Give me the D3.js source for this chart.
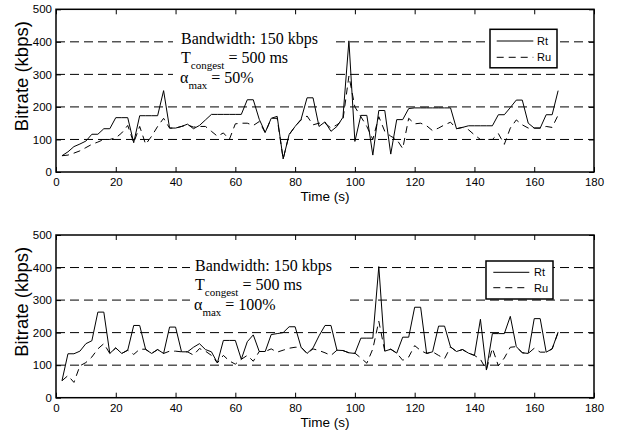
<!DOCTYPE html>
<html>
<head>
<meta charset="utf-8">
<script src="https://cdn.jsdelivr.net/npm/d3@7"></script>
<style>
  html, body { margin: 0; padding: 0; background: #fff; }
  svg { display: block; }
</style>
</head>
<body>
<script>
// ---- data ----
const timeS = [2,4,6,8,10,12,14,16,18,20,22,24,26,28,30,32,34,36,38,40,42,44,46,48,50,52,54,56,58,60,
  62,64,66,68,70,72,74,76,78,80,82,84,86,88,90,92,94,96,98,100,102,104,106,108,110,112,114,116,118,120,
  122,124,126,128,130,132,134,136,138,140,142,144,146,148,150,152,154,156,158,160,162,164,166,168];

// Top panel (alpha_max = 50%)
const rtTop = [50,62,78,86,95,116,116,133,133,167,167,167,90,173,173,173,173,250,135,135,
  140,147,133,143,160,177,177,177,177,177,177,222,222,162,122,165,171,40,115,140,
  162,228,228,140,154,125,140,168,403,94,174,174,52,189,189,55,161,161,195,197,
  197,197,197,197,197,197,133,137,142,142,142,142,142,176,176,198,221,221,150,135,
  135,176,176,250];
const ruTop = [50,52,58,65,75,85,92,100,100,105,120,143,90,140,85,110,140,165,135,135,
  140,145,138,140,140,125,110,120,100,148,150,150,143,155,120,165,165,40,115,140,
  160,172,145,150,150,135,145,160,295,200,170,140,100,170,125,110,100,72,165,148,
  150,142,127,135,145,153,133,137,130,114,100,100,100,118,85,135,160,145,135,135,
  135,140,137,175];

// Bottom panel (alpha_max = 100%)
const rtBottom = [52,135,135,143,166,175,263,263,136,153,136,146,222,222,148,136,148,136,217,217,
  141,141,155,166,148,141,107,176,176,176,118,172,193,142,142,194,197,200,218,218,
  155,136,153,190,222,222,146,145,138,136,183,183,183,403,143,149,137,186,186,278,
  278,136,141,220,220,156,142,148,137,130,241,85,197,197,197,250,157,138,136,243,
  243,140,150,202];
const ruBottom = [52,68,47,98,108,125,150,166,136,153,136,146,133,149,149,136,148,136,143,143,
  141,141,131,151,143,130,107,130,113,103,118,130,112,142,142,150,140,146,152,155,
  155,136,150,145,138,130,146,145,138,137,122,106,150,235,143,149,137,115,125,160,
  145,136,141,130,120,156,142,148,137,130,118,86,152,98,122,155,157,138,136,152,
  140,140,150,200];

const xTicks = [0,20,40,60,80,100,120,140,160,180];
const yTicks = [0,100,200,300,400,500];
const gridVals = [100,200,300,400];
const seriesNames = ["Rt","Ru"];
const annLine1 = "Bandwidth: 150 kbps";
const annTSub = "congest";
const annTVal = " = 500 ms";
const annASub = "max";
const alphaVals = [" = 50%", " = 100%"];

// ---- layout ----
const W = 631, H = 436;
const X0 = 56, X1 = 594;
const panels = [
  { top: 9.3, bottom: 172, rt: rtTop, ru: ruTop, alpha: alphaVals[0],
    ann: { x: 181, y: 43.5, box: [173, 25, 163, 68] },
    leg: { x: 490, y: 29.3, w: 67, h: 38.5, lx0: 496.7, lx1: 533.3, tx: 537, r1: 41, r2: 57.3 },
    xlabY: 200.5 },
  { top: 235, bottom: 397.7, rt: rtBottom, ru: ruBottom, alpha: alphaVals[1],
    ann: { x: 195, y: 270.7, box: [190, 250, 160, 68] },
    leg: { x: 486, y: 261, w: 67, h: 38, lx0: 493.3, lx1: 529.3, tx: 534, r1: 272.3, r2: 287.7 },
    xlabY: 426.5 }
];

const svg = d3.select("body").append("svg").attr("width", W).attr("height", H);
svg.append("rect").attr("width", W).attr("height", H).attr("fill", "#fff");

const x = d3.scaleLinear().domain([0, 180]).range([X0, X1]);
const sans = "Arial, 'Liberation Sans', sans-serif";
const serif = "'Times New Roman', 'Liberation Serif', serif";

panels.forEach(p => {
  const y = d3.scaleLinear().domain([0, 500]).range([p.bottom, p.top]);
  const g = svg.append("g");

  // grid (dashed)
  g.selectAll("line.grid").data(gridVals).enter().append("line")
    .attr("x1", X0).attr("x2", X1)
    .attr("y1", d => y(d)).attr("y2", d => y(d))
    .attr("stroke", "#000").attr("stroke-width", 1)
    .attr("stroke-dasharray", "9,5");

  // annotation background
  g.append("rect").attr("x", p.ann.box[0]).attr("y", p.ann.box[1])
    .attr("width", p.ann.box[2]).attr("height", p.ann.box[3]).attr("fill", "#fff");

  // data lines
  const lineRt = d3.line().x((d, i) => x(timeS[i])).y(d => y(d));
  g.append("path").datum(p.rt).attr("d", lineRt)
    .attr("fill", "none").attr("stroke", "#000").attr("stroke-width", 1)
    .attr("stroke-linejoin", "miter");
  g.append("path").datum(p.ru).attr("d", lineRt)
    .attr("fill", "none").attr("stroke", "#000").attr("stroke-width", 1)
    .attr("stroke-dasharray", "7,5");

  // axes with inward ticks
  const fmt = d3.format("d");
  const ax = g.append("g").attr("transform", `translate(0,${p.bottom})`)
    .call(d3.axisBottom(x).tickValues(xTicks).tickSize(-5).tickPadding(6).tickFormat(fmt));
  const axT = g.append("g").attr("transform", `translate(0,${p.top})`)
    .call(d3.axisTop(x).tickValues(xTicks).tickSize(-5).tickFormat(""));
  const ay = g.append("g").attr("transform", `translate(${X0},0)`)
    .call(d3.axisLeft(y).tickValues(yTicks).tickSize(-5).tickPadding(4).tickFormat(fmt));
  const ayR = g.append("g").attr("transform", `translate(${X1},0)`)
    .call(d3.axisRight(y).tickValues(yTicks).tickSize(-5).tickFormat(""));
  [ax, axT, ay, ayR].forEach(a => {
    a.select(".domain").remove();
    a.selectAll("line").attr("stroke", "#000");
    a.selectAll("text").attr("fill", "#000").style("font-family", sans).style("font-size", "11.5px");
  });

  // frame
  g.append("rect").attr("x", X0).attr("y", p.top)
    .attr("width", X1 - X0).attr("height", p.bottom - p.top)
    .attr("fill", "none").attr("stroke", "#000").attr("stroke-width", 1.5);

  // labels
  g.append("text").attr("x", (X0 + X1) / 2).attr("y", p.xlabY)
    .attr("text-anchor", "middle").style("font-family", sans).style("font-size", "13.5px")
    .text("Time (s)");
  const midY = (p.top + p.bottom) / 2 - 14.5;
  g.append("text").attr("transform", `translate(28,${midY}) rotate(-90)`)
    .attr("text-anchor", "middle").style("font-family", sans).style("font-size", "18.5px")
    .text("Bitrate (kbps)");

  // annotation text
  const at = g.append("g").style("font-family", serif).style("font-size", "16px");
  at.append("text").attr("x", p.ann.x).attr("y", p.ann.y).text(annLine1);
  const t2 = at.append("text").attr("x", p.ann.x).attr("y", p.ann.y + 19.7);
  t2.append("tspan").text("T");
  t2.append("tspan").attr("dy", 5.5).style("font-size", "11px").text(annTSub);
  t2.append("tspan").attr("dy", -5.5).text(annTVal);
  const t3 = at.append("text").attr("x", p.ann.x - 1).attr("y", p.ann.y + 39.5);
  t3.append("tspan").text("α");
  t3.append("tspan").attr("dy", 6).style("font-size", "11px").text(annASub);
  t3.append("tspan").attr("dy", -6).text(p.alpha);

  // legend
  const L = p.leg;
  g.append("rect").attr("x", L.x).attr("y", L.y).attr("width", L.w).attr("height", L.h)
    .attr("fill", "#fff").attr("stroke", "#000").attr("stroke-width", 1.5);
  const rows = [{ name: seriesNames[0], y: L.r1, dash: null }, { name: seriesNames[1], y: L.r2, dash: "7,5" }];
  rows.forEach(r => {
    g.append("line").attr("x1", L.lx0).attr("x2", L.lx1).attr("y1", r.y).attr("y2", r.y)
      .attr("stroke", "#000").attr("stroke-width", 1).attr("stroke-dasharray", r.dash);
    g.append("text").attr("x", L.tx).attr("y", r.y + 4).style("font-family", sans)
      .style("font-size", "11px").text(r.name);
  });
});
</script>
</body>
</html>
